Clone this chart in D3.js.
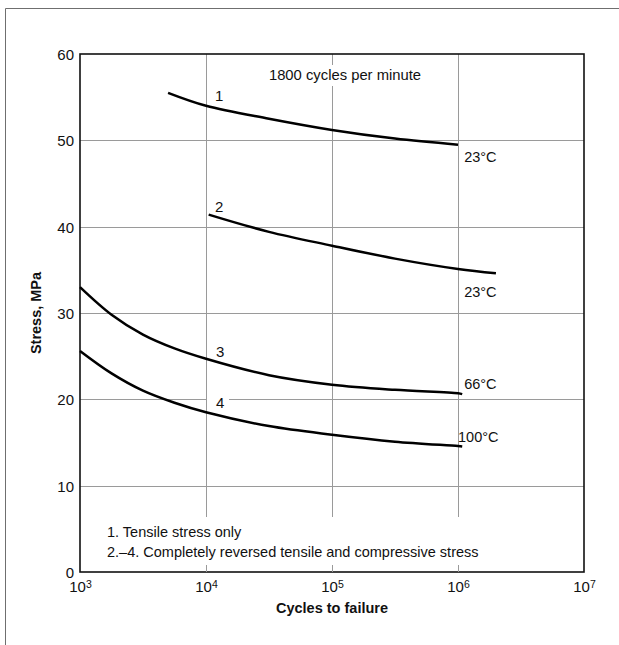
<!DOCTYPE html>
<html>
<head>
<meta charset="utf-8">
<script src="https://cdn.jsdelivr.net/npm/d3@7/dist/d3.min.js"></script>
<style>
  html, body { margin: 0; padding: 0; background: #fff; }
  svg text { font-family: "Liberation Sans", Arial, Helvetica, sans-serif; fill: #111; }
</style>
</head>
<body>
<svg id="chart" width="619" height="645"></svg>
<script>
// ---- data ----
const xTicks = [1e3, 1e4, 1e5, 1e6, 1e7];
const yTicks = [0, 10, 20, 30, 40, 50, 60];
const xGrid = [1e4, 1e5, 1e6];
const yGrid = [10, 20, 30, 40, 50];

// curve 1: tensile stress only, 23°C
const curve1 = [[5000, 55.5], [1e4, 54.0], [3.16e4, 52.5], [1e5, 51.2], [3.16e5, 50.2], [1e6, 49.5]];
// curve 2: reversed, 23°C
const curve2 = [[1.05e4, 41.4], [3.16e4, 39.4], [1e5, 37.8], [3.16e5, 36.3], [1e6, 35.1], [2e6, 34.6]];
// curve 3: reversed, 66°C
const curve3 = [[1e3, 33.0], [1.78e3, 29.8], [3.16e3, 27.5], [5.62e3, 25.9], [1e4, 24.7], [3.16e4, 22.8], [1e5, 21.7], [3.16e5, 21.1], [1e6, 20.7], [1.08e6, 20.6]];
// curve 4: reversed, 100°C
const curve4 = [[1e3, 25.6], [1.78e3, 23.0], [3.16e3, 21.0], [5.62e3, 19.6], [1e4, 18.5], [3.16e4, 16.9], [1e5, 15.9], [3.16e5, 15.1], [1e6, 14.6], [1.08e6, 14.55]];

const curveNames = ["1", "2", "3", "4"];
const curveLabelPos = [[1.18e4, 54.6], [1.18e4, 41.7], [1.2e4, 24.9], [1.2e4, 19.0]];
const tempLabels = ["23°C", "23°C", "66°C", "100°C"];
const tempLabelPos = [[1.12e6, 47.5], [1.12e6, 31.9], [1.12e6, 21.2], [1.0e6, 15.1]];

const noteText = "1800 cycles per minute";
const legendLines = ["1. Tensile stress only", "2.–4. Completely reversed tensile and compressive stress"];
const xTitle = "Cycles to failure";
const yTitle = "Stress, MPa";

// ---- chart ----
const svg = d3.select("#chart");
const x = d3.scaleLog().domain([1e3, 1e7]).range([80, 584]);
const y = d3.scaleLinear().domain([0, 60]).range([572, 54]);

// outer frame (top and left edges visible)
svg.append("path").attr("d", "M5.5,645V8.5H619").attr("fill", "none").attr("stroke", "#6f6f6f").attr("stroke-width", 1);

// grid
const grid = svg.append("g").attr("stroke", "#9a9a9a").attr("stroke-width", 1);
grid.selectAll("line.v").data(xGrid).join("line").attr("class", "v")
  .attr("x1", d => Math.round(x(d)) + 0.5).attr("x2", d => Math.round(x(d)) + 0.5)
  .attr("y1", y(60)).attr("y2", y(0));
grid.selectAll("line.h").data(yGrid).join("line").attr("class", "h")
  .attr("y1", d => Math.round(y(d)) + 0.5).attr("y2", d => Math.round(y(d)) + 0.5)
  .attr("x1", x(1e3)).attr("x2", x(1e7));

// white knock-outs behind texts
const ko = svg.append("g").attr("fill", "#fff");
ko.append("rect").attr("x", 262).attr("y", 65).attr("width", 166).attr("height", 21);
ko.append("rect").attr("x", 100).attr("y", 517).attr("width", 397).attr("height", 48);
ko.append("rect").attr("x", 207).attr("y", 394).attr("width", 22).attr("height", 14);

// plot frame
svg.append("rect").attr("x", x(1e3)).attr("y", y(60))
  .attr("width", x(1e7) - x(1e3)).attr("height", y(0) - y(60))
  .attr("fill", "none").attr("stroke", "#111").attr("stroke-width", 1.6);

// axes (labels only)
const yAxis = svg.append("g").attr("transform", `translate(${x(1e3)},0)`)
  .call(d3.axisLeft(y).tickValues(yTicks).tickSize(0).tickPadding(6).tickFormat(d3.format("d")));
yAxis.select(".domain").remove();
yAxis.selectAll("text").style("font-size", "15px").attr("fill", "#111").attr("dy", "0.36em");

const xAxis = svg.append("g").attr("transform", `translate(0,${y(0)})`)
  .call(d3.axisBottom(x).tickValues(xTicks).tickSize(0).tickPadding(6).tickFormat(() => ""));
xAxis.select(".domain").remove();
xAxis.selectAll(".tick text").each(function (d) {
  const t = d3.select(this).style("font-size", "15px").attr("fill", "#111").attr("dy", "0.95em");
  t.append("tspan").text("10");
  t.append("tspan").text(String(Math.round(Math.log10(d)))).style("font-size", "10.5px").attr("dy", "-0.45em");
});

// small ticks at bottom for grid positions
svg.append("g").attr("stroke", "#9a9a9a").selectAll("line").data(xGrid).join("line")
  .attr("x1", d => Math.round(x(d)) + 0.5).attr("x2", d => Math.round(x(d)) + 0.5)
  .attr("y1", y(0) - 7).attr("y2", y(0));

// curves
const line = d3.line().x(d => x(d[0])).y(d => y(d[1])).curve(d3.curveCatmullRom.alpha(0.5));
svg.append("g").attr("fill", "none").attr("stroke", "#000").attr("stroke-width", 2.5)
  .selectAll("path").data([curve1, curve2, curve3, curve4]).join("path").attr("d", line);

// curve labels
svg.append("g").selectAll("text").data(curveNames).join("text")
  .attr("x", (d, i) => x(curveLabelPos[i][0])).attr("y", (d, i) => y(curveLabelPos[i][1]))
  .style("font-size", "15px").text(d => d);
svg.append("g").selectAll("text").data(tempLabels).join("text")
  .attr("x", (d, i) => x(tempLabelPos[i][0])).attr("y", (d, i) => y(tempLabelPos[i][1]))
  .style("font-size", "14.5px").text(d => d);

// note
svg.append("text").attr("x", 345).attr("y", 80).attr("text-anchor", "middle")
  .style("font-size", "14.8px").text(noteText);

// legend
svg.append("g").selectAll("text").data(legendLines).join("text")
  .attr("x", 107).attr("y", (d, i) => 537 + i * 20)
  .style("font-size", "14.5px").text(d => d);

// axis titles
svg.append("text").attr("x", (x(1e3) + x(1e7)) / 2).attr("y", 613).attr("text-anchor", "middle")
  .style("font-size", "14.5px").style("font-weight", "bold").text(xTitle);
svg.append("text").attr("transform", `translate(41,${(y(0) + y(60)) / 2}) rotate(-90)`)
  .attr("text-anchor", "middle").style("font-size", "14.5px").style("font-weight", "bold").text(yTitle);
</script>
</body>
</html>
